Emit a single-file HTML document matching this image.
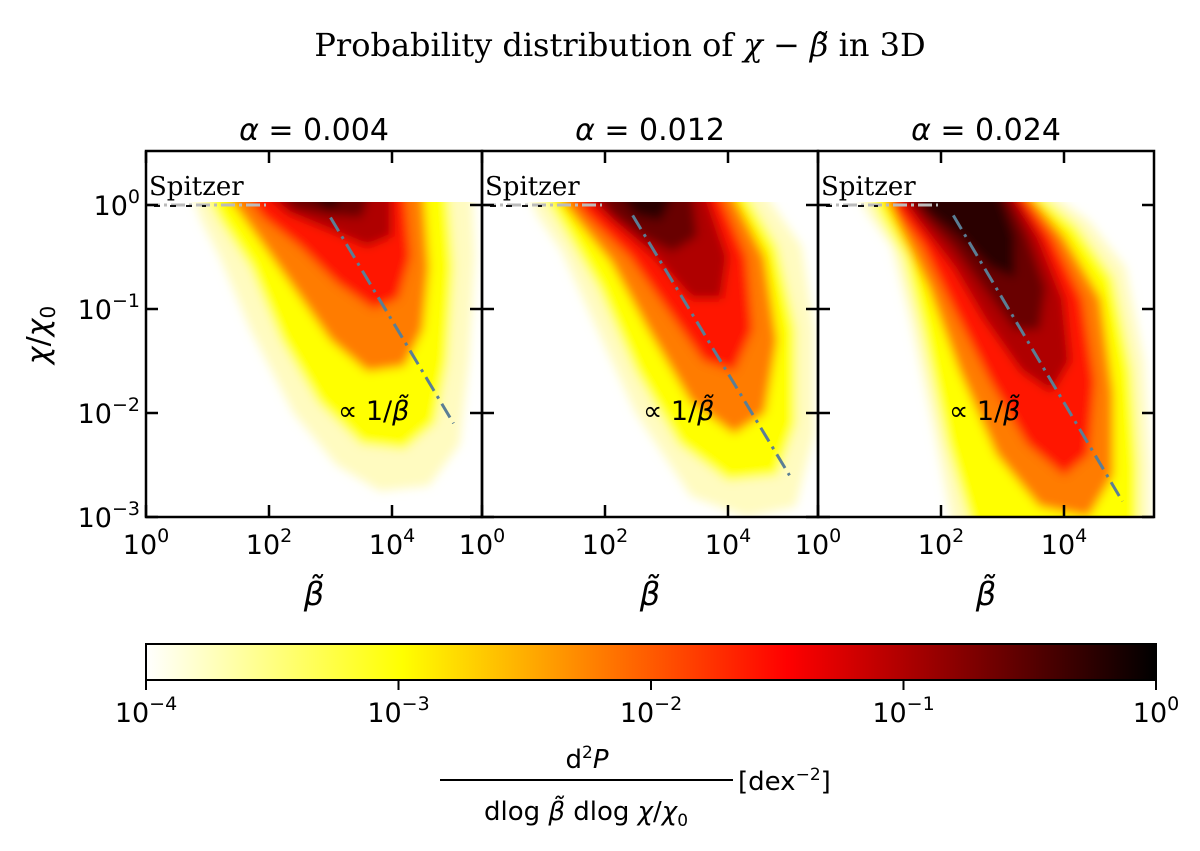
<!DOCTYPE html>
<html><head><meta charset="utf-8"><style>
body{margin:0;background:#fff;}
svg{display:block;font-family:"DejaVu Sans","Liberation Sans",sans-serif;}
</style></head><body>
<svg id="fig" width="1200" height="851" viewBox="0 0 1200 851">
<defs>
<filter id="blur" x="-10%" y="-10%" width="120%" height="120%"><feGaussianBlur stdDeviation="5"/></filter>
<linearGradient id="cbgrad" x1="0" x2="1" y1="0" y2="0">
<stop offset="0" stop-color="#ffffff"/><stop offset="0.254" stop-color="#ffff00"/><stop offset="0.635" stop-color="#ff0000"/><stop offset="1" stop-color="#000000"/>
</linearGradient>
</defs>
<text x="620" y="56" text-anchor="middle" font-family="'DejaVu Serif','Liberation Serif',serif" font-size="32">Probability distribution of <tspan font-style="italic">χ</tspan> − <tspan font-style="italic">β̃</tspan> in 3D</text>
<g id="panels"></g>
<g>
<rect x="146" y="644" width="1010" height="36" fill="url(#cbgrad)" stroke="#000" stroke-width="2"/>
<g id="cbticks"></g>
<text x="587" y="768" text-anchor="middle" font-size="26">d<tspan dy="-10" font-size="17">2</tspan><tspan dy="10" font-style="italic">P</tspan></text>
<line x1="440" y1="780" x2="733" y2="780" stroke="#000" stroke-width="2"/>
<text x="586" y="820" text-anchor="middle" font-size="26">dlog <tspan font-style="italic">β̃</tspan> dlog <tspan font-style="italic">χ</tspan>/<tspan font-style="italic">χ</tspan><tspan dy="6" font-size="17">0</tspan></text>
<text x="738" y="790" font-size="26">[dex<tspan dy="-10" font-size="17">−2</tspan><tspan dy="10">]</tspan></text>
</g>
<text transform="translate(48,335) rotate(-90)" text-anchor="middle" font-size="30"><tspan font-style="italic">χ</tspan>/<tspan font-style="italic">χ</tspan><tspan dy="7" font-size="20">0</tspan></text>
</svg>
<script>
const alphas = ["0.004","0.012","0.024"];
const levels = [-3.7,-3.0,-2.2,-1.6,-1.0,-0.6,-0.25];
const contoursP1 = [
 [[0.7,0],[5.3,0],[5.35,-0.5],[5.25,-1.5],[5.1,-2.3],[4.6,-2.7],[3.8,-2.75],[3.1,-2.5],[2.4,-2.0],[1.7,-1.2],[1.2,-0.5],[0.9,-0.15]],
 [[0.9,0],[4.9,0],[5.0,-0.6],[4.9,-1.5],[4.7,-2.1],[4.2,-2.35],[3.5,-2.3],[2.8,-1.9],[2.2,-1.3],[1.7,-0.6],[1.2,-0.15]],
 [[1.2,0],[4.5,0],[4.6,-0.6],[4.5,-1.2],[4.2,-1.55],[3.6,-1.6],[3.0,-1.3],[2.4,-0.8],[1.8,-0.3]],
 [[1.5,0],[4.2,0],[4.3,-0.5],[4.1,-0.9],[3.7,-1.0],[3.1,-0.75],[2.5,-0.4],[1.9,-0.12]],
 [[1.8,0],[4.0,0],[4.0,-0.3],[3.6,-0.4],[3.0,-0.25],[2.3,-0.08]],
 [[2.1,0],[3.7,0],[3.5,-0.12],[3.0,-0.1],[2.4,-0.03]],
 [[2.4,0],[3.4,0],[3.0,-0.05]]
];
const contoursP2 = [
 [[0.7,0],[4.5,0],[5.2,-0.4],[5.4,-1.2],[5.4,-2.2],[5.1,-2.9],[4.3,-3.0],[3.4,-2.8],[2.5,-2.0],[1.8,-1.1],[1.3,-0.45],[0.9,-0.1]],
 [[0.9,0],[4.2,0],[4.8,-0.4],[5.1,-1.2],[5.1,-2.1],[4.8,-2.6],[4.0,-2.65],[3.2,-2.3],[2.5,-1.6],[1.9,-0.8],[1.3,-0.2]],
 [[1.1,0],[4.0,0],[4.6,-0.5],[4.8,-1.3],[4.6,-2.0],[4.1,-2.2],[3.4,-1.9],[2.7,-1.2],[2.1,-0.55],[1.5,-0.12]],
 [[1.3,0],[3.8,0],[4.3,-0.5],[4.4,-1.2],[4.1,-1.6],[3.6,-1.5],[3.0,-1.0],[2.4,-0.5],[1.7,-0.1]],
 [[1.5,0],[3.6,0],[4.0,-0.5],[3.9,-0.9],[3.4,-0.9],[2.8,-0.5],[2.1,-0.15]],
 [[1.8,0],[3.4,0],[3.5,-0.3],[3.1,-0.45],[2.6,-0.3],[2.1,-0.08]],
 [[2.1,0],[3.2,0],[2.9,-0.15],[2.5,-0.1]]
];
const contoursP3 = [
 [[0.6,0],[3.6,0],[4.4,-0.15],[5.0,-0.6],[5.3,-1.5],[5.4,-2.5],[5.4,-3.1],[2.2,-3.1],[1.9,-2.2],[1.5,-1.1],[1.2,-0.4],[0.8,-0.08]],
 [[0.8,0],[3.4,0],[4.2,-0.2],[4.8,-0.7],[5.1,-1.6],[5.2,-2.5],[5.2,-3.1],[2.5,-3.1],[2.1,-2.3],[1.7,-1.2],[1.4,-0.5],[1.0,-0.1]],
 [[1.0,0],[3.3,0],[4.0,-0.3],[4.6,-0.9],[4.8,-1.8],[4.8,-2.6],[4.4,-3.0],[3.6,-2.9],[2.9,-2.4],[2.3,-1.6],[1.8,-0.8],[1.3,-0.2]],
 [[1.1,0],[3.2,0],[3.8,-0.3],[4.3,-0.9],[4.5,-1.7],[4.4,-2.4],[4.0,-2.6],[3.4,-2.3],[2.8,-1.7],[2.2,-1.0],[1.7,-0.4],[1.3,-0.08]],
 [[1.2,0],[3.1,0],[3.6,-0.3],[4.0,-0.9],[4.1,-1.5],[3.8,-1.8],[3.3,-1.6],[2.7,-1.1],[2.2,-0.6],[1.6,-0.15]],
 [[1.3,0],[3.0,0],[3.4,-0.3],[3.7,-0.8],[3.6,-1.2],[3.2,-1.2],[2.7,-0.8],[2.2,-0.4],[1.7,-0.1]],
 [[1.5,0],[2.9,0],[3.2,-0.3],[3.2,-0.7],[2.8,-0.6],[2.3,-0.3],[1.8,-0.08]]
];
const allContours = [contoursP1, contoursP2, contoursP3];
const fitLines = [[[3.0,-0.12],[5.0,-2.1]],[[2.45,-0.1],[5.0,-2.6]],[[2.2,-0.1],[4.95,-2.85]]];
const xTicks = [0,2,4];
const yTicks = [0,-1,-2,-3];
const yTickLabels = ["0","−1","−2","−3"];
const cbTicks = [-4,-3,-2,-1,0];
const cbTickLabels = ["−4","−3","−2","−1","0"];

(function(){
const NS="http://www.w3.org/2000/svg";
const panelLefts=[146,482,818], panelW=336, pTop=151, pBottom=517;
const pxPerDecX=61.5, pxPerDecY=104, y0=205;
function mk(tag,attrs,parent){const e=document.createElementNS(NS,tag);for(const k in attrs)e.setAttribute(k,attrs[k]);parent.appendChild(e);return e;}
function hotR(L){let t=(L+4)/4;let s=1-t;let r=Math.min(1,s/0.365),g=Math.max(0,Math.min(1,(s-0.365)/0.381)),b=Math.max(0,Math.min(1,(s-0.746)/0.254));
 if(L<-3.5){return "#fffbc0";}return `rgb(${Math.round(r*255)},${Math.round(g*255)},${Math.round(b*255)})`;}
const panels=document.getElementById('panels');
allContours.forEach((cs,pi)=>{
 const L0=panelLefts[pi];
 const X=v=>L0+v*pxPerDecX, Y=v=>y0-v*pxPerDecY;
 const g=mk('g',{},panels);
 
 
 const cp=mk('clipPath',{id:'clip'+pi},g);
 mk('rect',{x:L0,y:pTop,width:panelW,height:pBottom-pTop},cp);
 const cph=mk('clipPath',{id:'cliph'+pi},g);
 mk('rect',{x:L0,y:y0-3,width:panelW,height:pBottom-y0+3},cph);
 const hg=mk('g',{'clip-path':`url(#clip${pi})`},g);
 const hc=mk('g',{'clip-path':`url(#cliph${pi})`},hg);
 const hb=mk('g',{filter:'url(#blur)'},hc);
 
 
 cs.forEach((poly,li)=>{
  const pts=poly.map(p=>{let y=Y(p[1]);if(p[1]===0)y=Y(0)-20;return X(p[0]).toFixed(1)+','+y.toFixed(1);}).join(' ');
  const pg=mk('polygon',{points:pts,fill:hotR(levels[li])},hb);
  
  
 });
 const sp=mk('line',{x1:L0,y1:Y(0),x2:L0+120,y2:Y(0),stroke:'#bbb','stroke-width':3,'stroke-dasharray':'14,4,3,4'},hg);
 
 
 const sp2=mk('line',{x1:L0+8,y1:Y(0)+1,x2:L0+60,y2:Y(0)+1,stroke:'#111','stroke-width':2,'stroke-dasharray':'6,10'},hg);
 
 
 const fl=fitLines[pi];
 const ln=mk('line',{x1:X(fl[0][0]),y1:Y(fl[0][1]),x2:X(fl[1][0]),y2:Y(fl[1][1]),stroke:'#5a7e95','stroke-width':3,'stroke-dasharray':'16,6,3,6'},hg);
 
 
 const fr=mk('rect',{x:L0,y:pTop,width:panelW,height:pBottom-pTop,fill:'none',stroke:'#000','stroke-width':2.5},g);
 
 
 xTicks.forEach(v=>{
  const x=X(v);
  const t1=mk('line',{x1:x,y1:pBottom,x2:x,y2:pBottom-12,stroke:'#000','stroke-width':2.5},g);
  
  
  const t2=mk('line',{x1:x,y1:pTop,x2:x,y2:pTop+12,stroke:'#000','stroke-width':2.5},g);
  
  
  const tx=mk('text',{x:x,y:554,'text-anchor':'middle','font-size':27},g);
  
  
  tx.innerHTML='10<tspan dy="-12" font-size="19">'+v+'</tspan>';
 });
 yTicks.forEach((v,i)=>{
  const y=Y(v);
  const t1=mk('line',{x1:L0,y1:y,x2:L0+12,y2:y,stroke:'#000','stroke-width':2.5},g);
  
  
  const t2=mk('line',{x1:L0+panelW,y1:y,x2:L0+panelW-12,y2:y,stroke:'#000','stroke-width':2.5},g);
  
  
  if(pi===0){
   const tx=mk('text',{x:140,y:y+10,'text-anchor':'end','font-size':27},g);
   
   
   tx.innerHTML='10<tspan dy="-12" font-size="19">'+yTickLabels[i]+'</tspan>';
  }
 });
 const st=mk('text',{x:L0+168,y:140,'text-anchor':'middle','font-size':30},g);
 
 
 st.innerHTML='<tspan font-style="italic">α</tspan> = '+alphas[pi];
 const sz=mk('text',{x:L0+3,y:195,'font-size':26,'font-family':"'DejaVu Serif','Liberation Serif',serif"},g);
 
 
 sz.textContent='Spitzer';
 const pl=mk('text',{x:[338,643,949][pi],y:420,'font-size':27},g);
 
 
 pl.innerHTML='∝ 1/<tspan font-style="italic">β̃</tspan>';
 const xl=mk('text',{x:L0+168,y:605,'text-anchor':'middle','font-size':32,'font-style':'italic'},g);
 
 
 xl.textContent='β̃';
});
const cbg=document.getElementById('cbticks');
cbTicks.forEach((v,i)=>{
 const x=146+(v+4)/4*1010;
 const t=mk('line',{x1:x,y1:680,x2:x,y2:690,stroke:'#000','stroke-width':2},cbg);
 
 
 const tx=mk('text',{x:x,y:722,'text-anchor':'middle','font-size':27},cbg);
 
 
 tx.innerHTML='10<tspan dy="-12" font-size="19">'+cbTickLabels[i]+'</tspan>';
});
})();
</script>
</body></html>
